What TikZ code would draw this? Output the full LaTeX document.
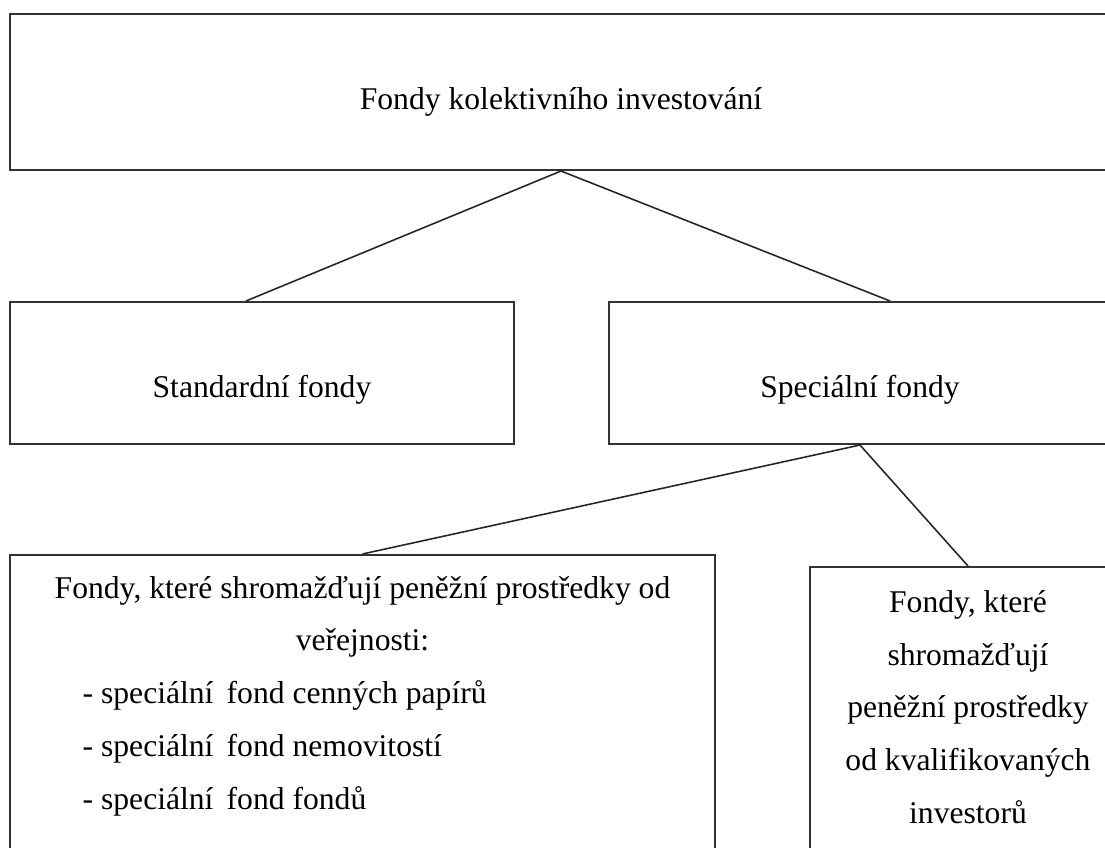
\documentclass[tikz,border=0pt]{standalone}
\usepackage{fontspec}
\setmainfont{Liberation Serif}
\usetikzlibrary{positioning}
\tikzset{fond/.style={draw=black!80,line width=1.2pt,fill=white,inner sep=0pt},
 fondtext/.style={inner sep=0pt,align=center,font=\fontsize{18}{30}\selectfont},
 spoj/.style={draw=black!85,line width=0.9pt}}

\begin{document}
\begin{tikzpicture}[x=0.02cm,y=-0.02cm]
\useasboundingbox (0,0) rectangle (1105,848);
\clip (0,0) rectangle (1105,848);
% boxes
\node[fond,minimum width=22.04cm,minimum height=3.12cm,label={[fondtext,yshift=-0.2cm]center:Fondy kolektivního investování}] (kolekt) at (561,92) {};
\node[fond,minimum width=10.08cm,minimum height=2.84cm,label={[fondtext,yshift=-0.34cm]center:Standardní fondy}] (standard) at (262,373) {};
\node[fond,minimum width=10.04cm,minimum height=2.84cm,label={[fondtext,yshift=-0.34cm]center:Speciální fondy}] (special) at (860,373) {};
\node[fond,minimum width=14.1cm,minimum height=6.3cm] (verejnost) at (362.5,712.5) {};
\node[fond,minimum width=6.32cm,minimum height=6.06cm] (kvalif) at (968,718.5) {};
% texts of the lower boxes
\node[fondtext,below=0.14cm of verejnost.north] (verejnosttext) {\begin{tabular}{@{}l@{}}
 Fondy, které shromažďují peněžní prostředky od\\
 \multicolumn{1}{c}{veřejnosti:}\\
 \hspace*{0.56cm}- speciální\, fond cenných papírů\\
 \hspace*{0.56cm}- speciální\, fond nemovitostí\\
 \hspace*{0.56cm}- speciální\, fond fondů
 \end{tabular}};
\node[fondtext,below=0.48cm of kvalif.north] (kvaliftext) {Fondy, které\\shromažďují\\peněžní prostředky\\od kvalifikovaných\\investorů};
% connectors
\draw[spoj] (kolekt.south) -- ([xshift=-0.32cm]standard.north);
\draw[spoj] (kolekt.south) -- ([xshift=0.6cm]special.north);
\draw[spoj] (special.south) -- (verejnost.north);
\draw[spoj] (special.south) -- (kvalif.north);
\end{tikzpicture}
\end{document}
